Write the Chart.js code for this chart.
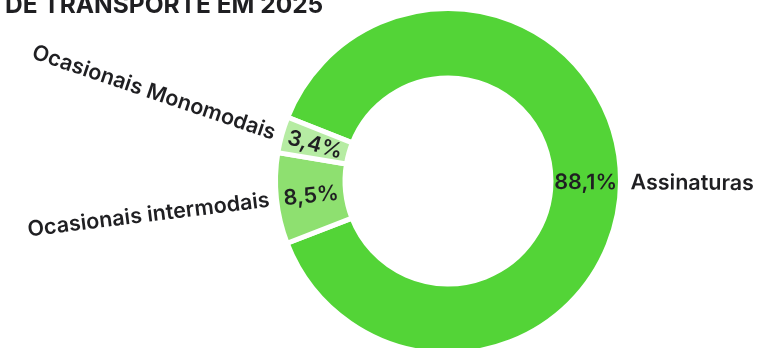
<!DOCTYPE html>
<html>
<head>
<meta charset="utf-8">
<script src="https://cdn.jsdelivr.net/npm/chart.js@4.4.1/dist/chart.umd.min.js"></script>
<style>
  html, body { margin: 0; padding: 0; background: #fff; overflow: hidden; }
  #wrap { width: 761px; height: 348px; position: relative; }
</style>
</head>
<body>
<div id="wrap"><canvas id="chart"></canvas></div>
<script>
// Trip types and their share of trips (%)
const tripTypes = ['Assinaturas', 'Ocasionais intermodais', 'Ocasionais Monomodais'];
const tripShares = [88.1, 8.5, 3.4];
const sliceColors = ['#53d437', '#8ee070', '#b6eca3'];
const titleLine = 'DE TRANSPORTE EM 2025';

const textColor = '#1f1f22';

// "88,1%" style formatting
function pct(v) {
  return v.toFixed(1).replace('.', ',') + '%';
}

// Title plus radial labels: value in the ring, name outside it
const ringLabels = {
  id: 'ringLabels',
  afterDatasetsDraw(chart) {
    const ctx = chart.ctx;
    ctx.save();
    ctx.fillStyle = textColor;
    ctx.font = '700 24.5px Inter';
    ctx.textAlign = 'left';
    ctx.textBaseline = 'alphabetic';
    ctx.fillText(titleLine, 5, 13);
    ctx.restore();

    const arcs = chart.getDatasetMeta(0).data;
    arcs.forEach((arc, i) => {
      const p = arc.getProps(['x', 'y', 'startAngle', 'endAngle', 'innerRadius', 'outerRadius'], true);
      const mid = (p.startAngle + p.endAngle) / 2;
      const flip = Math.cos(mid) < 0;
      const dir = flip ? -1 : 1;
      // angle relative to the horizontal, so text never reads upside down
      const rel = Math.atan2(Math.sin(mid), Math.abs(Math.cos(mid))) * dir;
      ctx.save();
      ctx.fillStyle = textColor;
      ctx.textBaseline = 'middle';
      ctx.font = '600 21.5px Inter';

      // value, centred in the ring
      const rMid = (p.innerRadius + p.outerRadius) / 2;
      ctx.save();
      ctx.translate(p.x + Math.cos(mid) * rMid, p.y + Math.sin(mid) * rMid);
      ctx.rotate(rel);
      ctx.textAlign = 'center';
      ctx.fillText(pct(tripShares[i]), 0, 1);
      ctx.restore();

      // name, just outside the ring, fanned out a little more than the slice
      const rOut = p.outerRadius + (flip ? 7 : 10);
      ctx.translate(p.x + Math.cos(mid) * rOut, p.y + Math.sin(mid) * rOut);
      ctx.rotate(rel * 1.2);
      ctx.textAlign = flip ? 'right' : 'left';
      ctx.fillText(tripTypes[i], 0, 1);
      ctx.restore();
    });
  }
};

new Chart(document.getElementById('chart'), {
  type: 'doughnut',
  data: {
    labels: tripTypes,
    datasets: [{
      data: tripShares,
      backgroundColor: sliceColors,
      borderColor: '#ffffff',
      borderWidth: 5,
      hoverOffset: 0,
      clip: false,
    }],
  },
  options: {
    responsive: true,
    maintainAspectRatio: false,
    animation: false,
    rotation: -68.3,
    radius: 172.5,
    cutout: '59.7%',
    layout: {
      padding: { left: 200, right: 65, top: 14, bottom: 0 },
    },
    plugins: {
      legend: { display: false },
      tooltip: { enabled: false },
    },
  },
  plugins: [ringLabels],
});
</script>
</body>
</html>
